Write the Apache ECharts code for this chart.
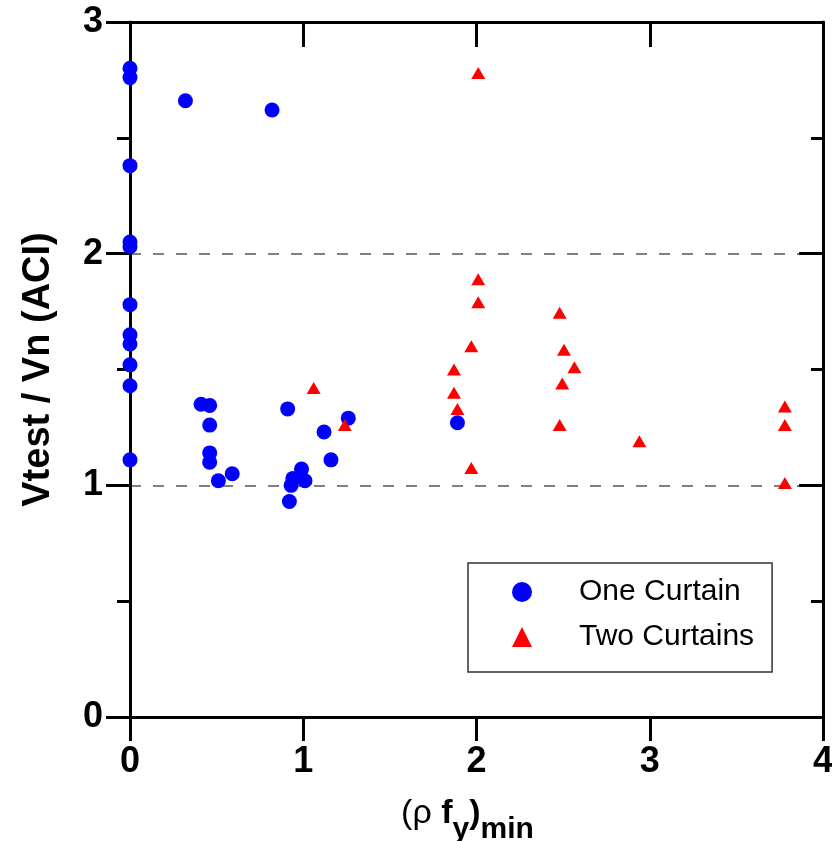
<!DOCTYPE html>
<html>
<head>
<meta charset="utf-8">
<script src="https://cdn.jsdelivr.net/npm/echarts@6/dist/echarts.min.js"></script>
<style>html,body{margin:0;padding:0;background:#fff;overflow:hidden}#c{width:832px;height:841px}</style>
</head>
<body>
<div id="c"></div>
<script>
var oneX = [0, 0, 0, 0, 0, 0, 0, 0, 0, 0, 0, 0.32, 0.82, 0.41, 0.46, 0.46, 0.46, 0.46, 0.51, 0.59, 0.91, 0.99, 0.94, 1.01, 0.93, 0.92, 1.12, 1.16, 1.26, 1.89];
var oneY = [2.80, 2.76, 2.38, 2.05, 2.03, 1.78, 1.65, 1.61, 1.52, 1.43, 1.11, 2.66, 2.62, 1.35, 1.345, 1.26, 1.14, 1.10, 1.02, 1.05, 1.33, 1.07, 1.03, 1.02, 1.00, 0.93, 1.23, 1.11, 1.29, 1.27];
var twoX = [1.06, 1.24, 2.01, 2.01, 2.01, 1.97, 1.87, 1.87, 1.89, 1.97, 2.48, 2.505, 2.565, 2.495, 2.48, 2.94, 3.78, 3.78, 3.78];
var twoY = [1.42, 1.26, 2.78, 1.89, 1.79, 1.60, 1.50, 1.40, 1.33, 1.075, 1.745, 1.585, 1.51, 1.44, 1.26, 1.19, 1.34, 1.26, 1.01];
var seriesNames = ['One Curtain', 'Two Curtains'];
var xTicks = ['0', '1', '2', '3', '4'];
var yTicks = ['0', '1', '2', '3'];

function pairs(xs, ys) { return xs.map(function (x, i) { return [x, ys[i]]; }); }

var FONT = "'Liberation Sans', Arial, sans-serif";
var chart = echarts.init(document.getElementById('c'), null, { renderer: 'canvas' });
var axisLine = { show: true, onZero: false, lineStyle: { color: '#000', width: 3 } };
chart.setOption({
  animation: false,
  backgroundColor: '#fff',
  grid: { left: 130, right: 9, top: 22, bottom: 124, containLabel: false, outerBoundsMode: 'none' },
  legend: {
    orient: 'vertical', left: 468, top: 563,
    data: seriesNames,
    itemWidth: 20, itemHeight: 20, itemGap: 15,
    padding: [14, 18, 20, 44],
    borderColor: '#333', borderWidth: 1.5,
    symbolKeepAspect: true,
    textStyle: { fontFamily: FONT, fontSize: 30, color: '#000', lineHeight: 30, padding: [0, 0, 0, 42] }
  },
  xAxis: [{
    type: 'value', position: 'bottom', min: 0, max: 4, interval: 1,
    axisLine: axisLine,
    axisTick: { show: true, inside: false, length: 24, lineStyle: { color: '#000', width: 3 } },
    minorTick: { show: false },
    splitLine: { show: false },
    axisLabel: { margin: 27, fontFamily: FONT, fontSize: 36, fontWeight: 'bold', color: '#000',
      formatter: function (v) { return xTicks[Math.round(v)]; } },
    name: '{a|(\u03c1 }{b|f}{s|y}{b|)}{s|min}',
    nameLocation: 'middle', nameGap: 80,
    nameTextStyle: {
      padding: [0, 18, 0, 0],
      rich: {
        a: { fontFamily: FONT, fontSize: 34, color: '#000', lineHeight: 32, verticalAlign: 'top' },
        b: { fontFamily: FONT, fontSize: 34, fontWeight: 'bold', color: '#000', lineHeight: 32, verticalAlign: 'top' },
        s: { fontFamily: FONT, fontSize: 30, fontWeight: 'bold', color: '#000', lineHeight: 48, verticalAlign: 'bottom' }
      }
    }
  }, {
    type: 'value', position: 'top', min: 0, max: 4, interval: 1,
    axisLine: axisLine,
    axisTick: { show: true, inside: true, length: 25, lineStyle: { color: '#000', width: 3 } },
    axisLabel: { show: false }, splitLine: { show: false }
  }],
  yAxis: [{
    type: 'value', position: 'left', min: 0, max: 3, interval: 1,
    axisLine: axisLine,
    axisTick: { show: true, inside: false, length: 24, lineStyle: { color: '#000', width: 3 } },
    minorTick: { show: true, splitNumber: 2, length: 13, lineStyle: { color: '#000', width: 3 } },
    splitLine: { show: true, lineStyle: { color: '#555', width: 1.5, type: [11, 12] } },
    axisLabel: { margin: 27, fontFamily: FONT, fontSize: 36, fontWeight: 'bold', color: '#000',
      formatter: function (v) { return yTicks[Math.round(v)]; } },
    name: 'Vtest / Vn (ACI)',
    nameLocation: 'middle', nameGap: 72,
    nameTextStyle: { fontFamily: FONT, fontSize: 38, fontWeight: 'bold', color: '#000', lineHeight: 38 }
  }, {
    type: 'value', position: 'right', min: 0, max: 3, interval: 1,
    axisLine: axisLine,
    axisTick: { show: true, inside: true, length: 24, lineStyle: { color: '#000', width: 3 } },
    minorTick: { show: true, splitNumber: 2, length: 12, lineStyle: { color: '#000', width: 3 } },
    axisLabel: { show: false }, splitLine: { show: false }
  }],
  series: [{
    name: seriesNames[0], type: 'scatter', xAxisIndex: 0, yAxisIndex: 0,
    symbol: 'circle', symbolSize: 15,
    itemStyle: { color: '#0000ff', opacity: 1 },
    data: pairs(oneX, oneY), z: 3
  }, {
    name: seriesNames[1], type: 'scatter', xAxisIndex: 0, yAxisIndex: 0,
    symbol: 'triangle', symbolSize: [14, 12],
    itemStyle: { color: '#ff0000', opacity: 1 },
    data: pairs(twoX, twoY), z: 4
  }]
});
</script>
</body>
</html>
